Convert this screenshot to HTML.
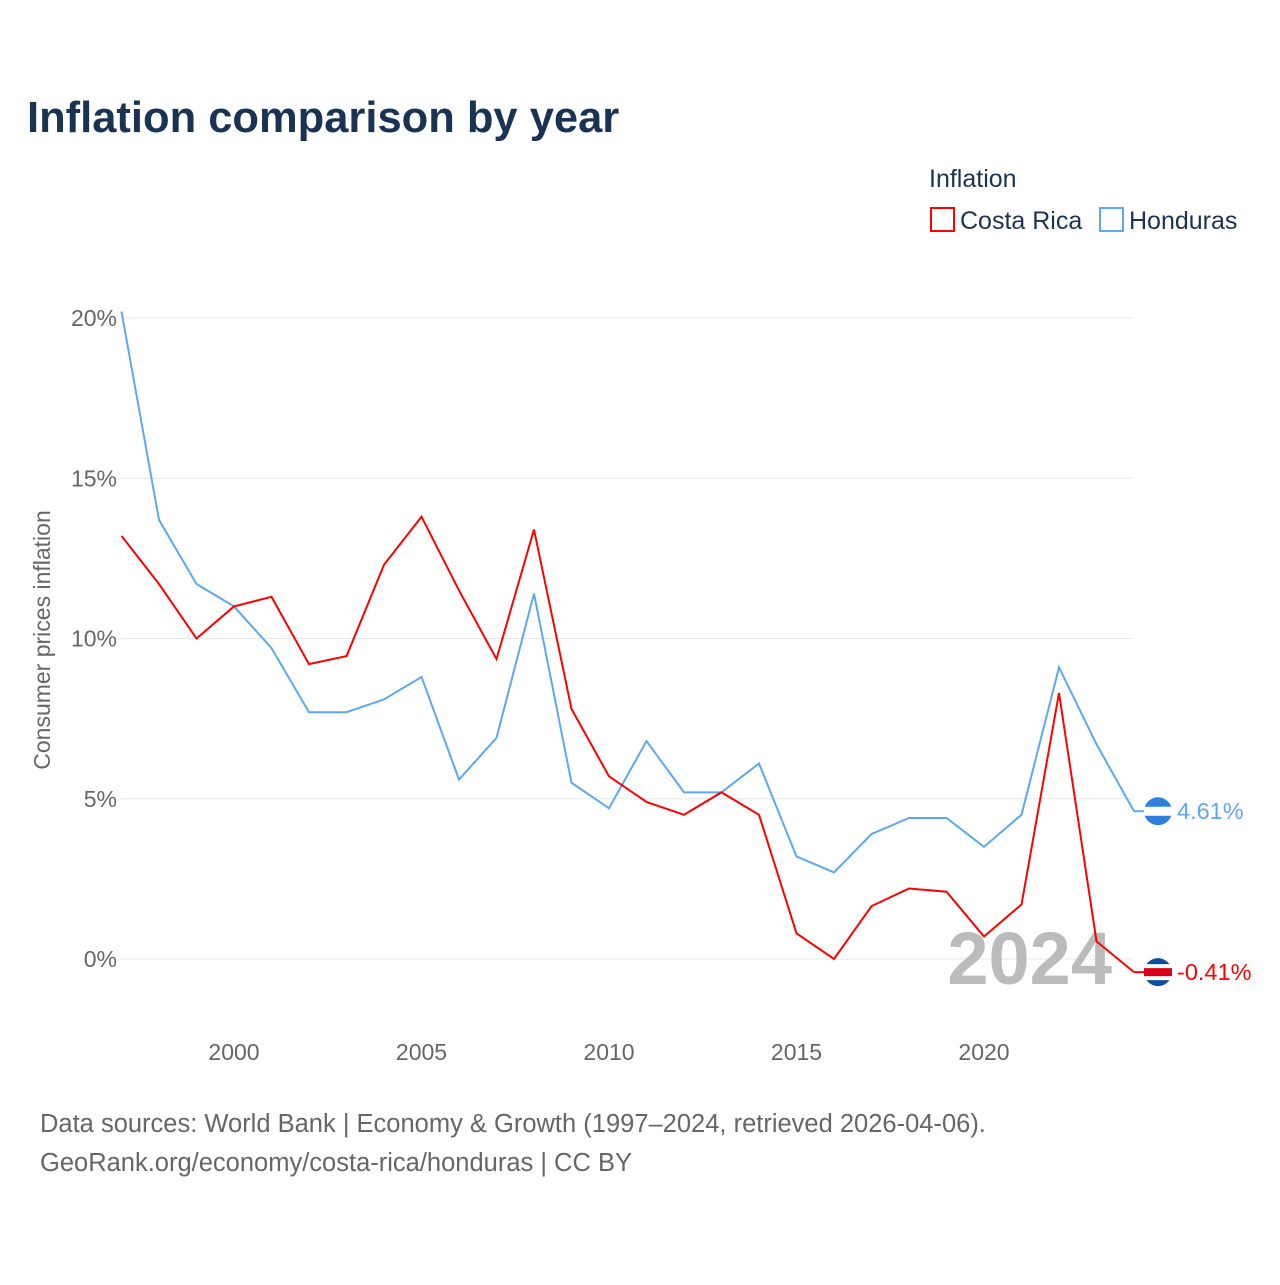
<!DOCTYPE html>
<html><head><meta charset="utf-8"><style>
body{margin:0;background:#fff;font-family:"Liberation Sans",sans-serif}
</style></head><body>
<svg width="1280" height="1280" viewBox="0 0 1280 1280" xmlns="http://www.w3.org/2000/svg">
<text x="27" y="132" font-size="43.5" font-weight="bold" fill="#1b3353">Inflation comparison by year</text>
<text x="929" y="187" font-size="25" fill="#1b3353">Inflation</text>
<g><rect x="931" y="208" width="23" height="23" fill="none" stroke="#f00" stroke-width="2"/><text x="960" y="229" font-size="25" fill="#1b3353">Costa Rica</text></g>
<g><rect x="1100" y="208" width="23" height="23" fill="none" stroke="#5ea8ee" stroke-width="2"/><text x="1129" y="229" font-size="25" fill="#1b3353">Honduras</text></g>
<g id="grid"></g>
<g id="yt"></g>
<g id="xt"></g>
<text transform="translate(50,640) rotate(-90)" text-anchor="middle" font-size="23" fill="#666">Consumer prices inflation</text>
<text x="1112" y="984" text-anchor="end" font-size="74" font-weight="bold" fill="#bbb">2024</text>
<g id="series"></g>
<text x="40" y="1132" font-size="25.5" fill="#666">Data sources: World Bank | Economy &amp; Growth (1997–2024, retrieved 2026-04-06).</text>
<text x="40" y="1171" font-size="25.5" fill="#666">GeoRank.org/economy/costa-rica/honduras | CC BY</text>
</svg>
<script>
const years=[1997,1998,1999,2000,2001,2002,2003,2004,2005,2006,2007,2008,2009,2010,2011,2012,2013,2014,2015,2016,2017,2018,2019,2020,2021,2022,2023,2024];
const costaRica=[13.2,11.7,10.0,11.0,11.3,9.2,9.45,12.3,13.8,11.5,9.36,13.4,7.8,5.7,4.9,4.5,5.2,4.5,0.8,0.0,1.65,2.2,2.1,0.7,1.7,8.3,0.55,-0.41];
const honduras=[20.2,13.7,11.7,11.0,9.7,7.7,7.7,8.1,8.8,5.6,6.9,11.4,5.5,4.7,6.8,5.2,5.2,6.1,3.2,2.7,3.9,4.4,4.4,3.5,4.5,9.1,6.7,4.61];
const yTicks=[0,5,10,15,20];
const xTicks=[2000,2005,2010,2015,2020];
const NS="http://www.w3.org/2000/svg";
const x=v=>121.5+(v-1997)*37.5;
const y=v=>959-v*32.05;
function mk(t,a,p){const e=document.createElementNS(NS,t);for(const k in a)e.setAttribute(k,a[k]);p.appendChild(e);return e;}
const grid=document.getElementById('grid'),yt=document.getElementById('yt'),xt=document.getElementById('xt'),ser=document.getElementById('series');
yTicks.forEach(v=>{
 const l=mk('line',{x1:121,x2:1133,y1:y(v),y2:y(v),stroke:'#e8e8e8','stroke-width':1},grid);
 
 
 const t=mk('text',{x:117,y:y(v)+8,'text-anchor':'end','font-size':23,fill:'#666'},yt);
 t.textContent=v+'%';
 
 
});
xTicks.forEach(v=>{
 const t=mk('text',{x:x(v),y:1060,'text-anchor':'middle','font-size':23,fill:'#666'},xt);
 t.textContent=v;
 
 
});
function line(vals,col,name,flag){
 const d=vals.map((v,i)=>(i?'L':'M')+x(years[i])+','+y(v)).join(' ');
 const p=mk('path',{d:d,fill:'none',stroke:col,'stroke-width':2},ser);
 
 
 const lv=vals[vals.length-1],ly=y(lv),lx=x(years[years.length-1]);
 mk('line',{x1:lx,x2:lx+12,y1:ly,y2:ly,stroke:col,'stroke-width':2},ser);
 const g=mk('g',{},ser);
 
 
 if(flag==='hn'){
  mk('circle',{cx:1158,cy:ly,r:14,fill:'#2f7fdc'},g);
  mk('rect',{x:1144,y:ly-4.5,width:28,height:9,fill:'#fff'},g);
 }else{
  mk('circle',{cx:1158,cy:ly,r:14,fill:'#0b4ea2'},g);
  mk('rect',{x:1144,y:ly-8,width:28,height:16,fill:'#fff'},g);
  mk('rect',{x:1144,y:ly-4,width:28,height:8,fill:'#d9001b'},g);
 }
 const t=mk('text',{x:1177,y:ly+8,'font-size':23.5,fill:col},ser);
 t.textContent=lv.toFixed(2)+'%';
 
 
}
line(honduras,'#5ea8ee','honduras','hn');
line(costaRica,'#f00','costa-rica','cr');
</script>
</body></html>
